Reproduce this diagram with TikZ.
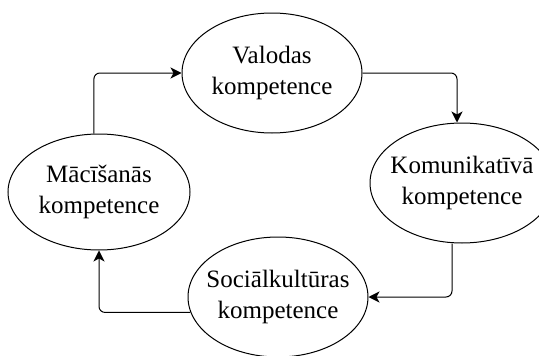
\documentclass[tikz,border=0pt]{standalone}
\usepackage{fontspec}
\setmainfont{Liberation Serif}
\usetikzlibrary{shapes.geometric,arrows.meta}
\begin{document}
\begin{tikzpicture}[x=1pt,y=-1pt,
  comp/.style={ellipse,draw,line width=1pt,inner sep=0pt},
  comptext/.style={align=center,font=\fontsize{25}{31}\selectfont,inner sep=0pt},
  flow/.style={line width=1pt,rounded corners=6pt,
    -{Stealth[length=11pt,width=11pt,inset=3pt]}}]
\useasboundingbox (0,0) rectangle (539,356);
% the four competences; labels sit on top of fixed-size ellipses
\node[comp,minimum width=180pt,minimum height=120pt,
  label={[comptext]center:Valodas\\kompetence}] (V) at (272,73) {};
\node[comp,minimum width=184pt,minimum height=120pt,
  label={[comptext]center:Komunikatīvā\\kompetence}] (K) at (462,183) {};
\node[comp,minimum width=180pt,minimum height=120pt,
  label={[comptext]center:Sociālkultūras\\kompetence}] (S) at (278,297) {};
\node[comp,minimum width=182pt,minimum height=116pt,
  label={[comptext]center:Mācīšanās\\kompetence}] (M) at (99,192) {};
% cycle of competences
\draw[flow] (V.east) -| ([xshift=-5pt]K.north);
\draw[flow] ([xshift=-10pt]K.south) |- (S.east);
\draw[flow] (S.190) -| (M.south);
\draw[flow] (M.95) |- (V.west);
\end{tikzpicture}
\end{document}
